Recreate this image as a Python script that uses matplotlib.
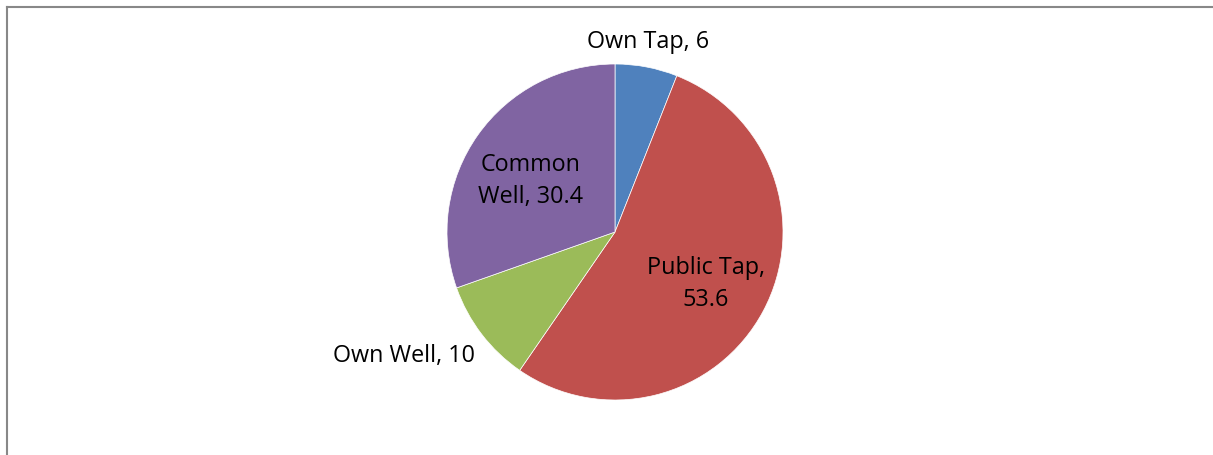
import matplotlib.pyplot as plt
from matplotlib.lines import Line2D

labels = ["Own Tap", "Public Tap", "Own Well", "Common Well"]
values = [6, 53.6, 10, 30.4]
label_texts = ["Own Tap, 6", "Public Tap,\n53.6", "Own Well, 10", "Common\nWell, 30.4"]
colors = ["#4F81BD", "#C0504D", "#9BBB59", "#8064A2"]

W, H = 1213, 455
fig = plt.figure(figsize=(W / 100, H / 100), dpi=100)
plt.rcParams["font.family"] = ["Open Sans", "DejaVu Sans"]

# pie axes: centre (615, 232), radius 168 px
cx, cy, r = 615, 232, 168
ax = fig.add_axes([(cx - r) / W, 1 - (cy + r) / H, 2 * r / W, 2 * r / H])
wedges, _ = ax.pie(values, colors=colors, startangle=90, counterclock=False,
                   wedgeprops=dict(linewidth=0.5, edgecolor="white"))
ax.set_aspect("equal")
ax.set_xlim(-1, 1)
ax.set_ylim(-1, 1)

# label positions in pixel coords
label_pos = [(648, 42), (706, 284), (404, 356), (531, 181)]
for txt, (px, py) in zip(label_texts, label_pos):
    fig.text(px / W, 1 - py / H, txt, ha="center", va="center",
             fontsize=16.8, color="black", linespacing=1.4)

# chart area frame (left and top edges visible)
frame_col = "#888888"
fig.add_artist(Line2D([6.5 / W, 6.5 / W], [0, 1 - 6.5 / H], color=frame_col,
                      lw=1.5, transform=fig.transFigure))
fig.add_artist(Line2D([6.5 / W, 1], [1 - 6.5 / H, 1 - 6.5 / H], color=frame_col,
                      lw=1.5, transform=fig.transFigure))

fig.savefig("out.png", dpi=100)
